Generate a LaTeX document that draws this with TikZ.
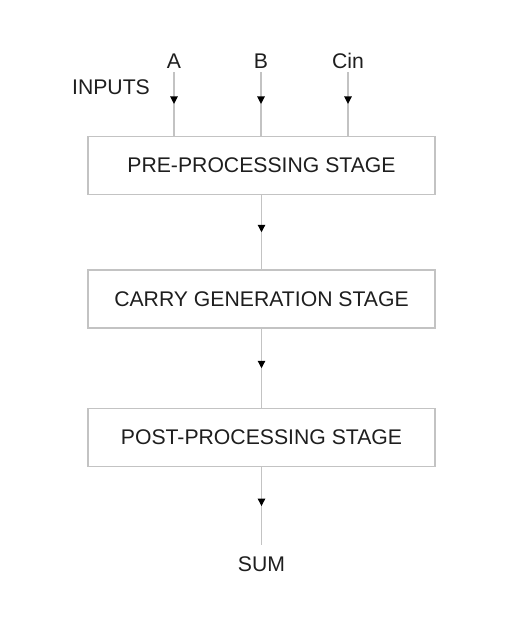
\documentclass[tikz,border=0pt]{standalone}
\usepackage{fontspec}
\setmainfont{Liberation Sans}
\usetikzlibrary{arrows.meta,decorations.markings}
\definecolor{linegray}{RGB}{195,195,195}
\definecolor{txt}{RGB}{30,30,30}
\tikzset{
  x=1pt,y=1pt,
  stagebox/.style={draw=linegray,line width=1.2pt,minimum width=347pt,minimum height=58pt,inner sep=0pt,font=\fontsize{21.2}{25}\selectfont,text=txt},
  lbl/.style={inner sep=0pt,font=\fontsize{21.2}{25}\selectfont,text=txt},
  conn/.style={draw=linegray,line width=1.2pt,postaction={decorate},
    decoration={markings,mark=at position 0.5 with {\arrow[black]{Triangle[width=7.5pt,length=7.5pt]}}}}
}
\begin{document}
\begin{tikzpicture}
\useasboundingbox (0,0) rectangle (525,-632);
\node[stagebox] (pre) at (261.5,-165.5) {PRE-PROCESSING STAGE};
\node[stagebox] (carry) at (261.5,-299) {CARRY GENERATION STAGE};
\node[stagebox] (post) at (261.5,-437.5) {POST-PROCESSING STAGE};
\node[lbl] (A) at (174,-61) {A};
\node[lbl] (B) at (261,-61) {B};
\node[lbl] (C) at (348,-61) {Cin};
\node[lbl] (inputs) at (111,-87) {INPUTS};
\node[lbl] (sum) at (261.5,-564) {SUM};
\coordinate (a0) at (174,-72);
\coordinate (b0) at (261,-72);
\coordinate (c0) at (348,-72);
\coordinate (s1) at (261.5,-545);
\draw[conn] (a0) -- (a0 |- pre.north);
\draw[conn] (b0) -- (b0 |- pre.north);
\draw[conn] (c0) -- (c0 |- pre.north);
\draw[conn] (pre.south) -- (carry.north);
\draw[conn] (carry.south) -- (post.north);
\draw[conn] (post.south) -- (s1);
\end{tikzpicture}
\end{document}
